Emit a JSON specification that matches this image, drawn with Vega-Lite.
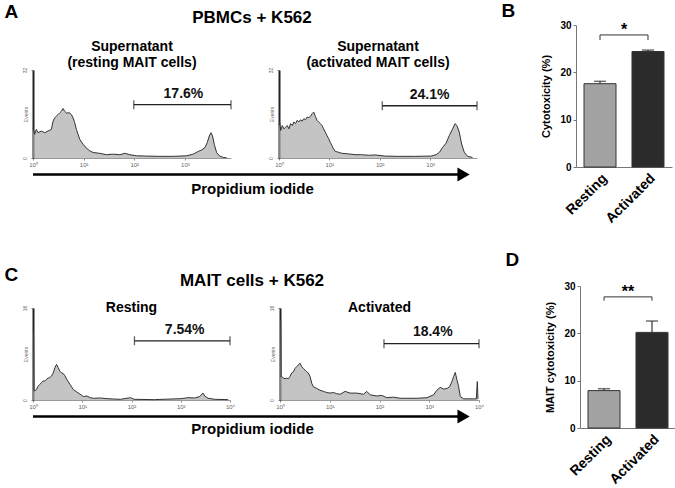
{
  "$schema": "https://vega.github.io/schema/vega-lite/v6.json",
  "background": "white",
  "padding": {"left": 4, "top": 2, "right": 0, "bottom": 0},
  "config": {
    "font": "Liberation Sans",
    "view": {"stroke": null},
    "title": {"color": "#000"},
    "axis": {"grid": false}
  },
  "datasets": {
    "h1": [
      {"lx":0,"count":11.0},{"lx":0.033,"count":8.6},{"lx":0.066,"count":10.4},{"lx":0.099,"count":9.2},{"lx":0.165,"count":9.8},{"lx":0.231,"count":9.2},{"lx":0.33,"count":10.1},{"lx":0.363,"count":10.4},{"lx":0.396,"count":13.4},{"lx":0.428,"count":14.6},{"lx":0.461,"count":15.2},{"lx":0.494,"count":15.8},{"lx":0.527,"count":16.4},{"lx":0.56,"count":17.0},{"lx":0.593,"count":18.0},{"lx":0.626,"count":17.0},{"lx":0.659,"count":16.4},{"lx":0.725,"count":16.4},{"lx":0.758,"count":15.8},{"lx":0.791,"count":14.6},{"lx":0.824,"count":12.8},{"lx":0.857,"count":10.4},{"lx":0.89,"count":8.6},{"lx":0.923,"count":6.8},{"lx":0.989,"count":5.0},{"lx":1.055,"count":3.6},{"lx":1.121,"count":2.6},{"lx":1.187,"count":2.0},{"lx":1.318,"count":1.7},{"lx":1.45,"count":1.2},{"lx":1.582,"count":1.4},{"lx":1.714,"count":1.2},{"lx":1.813,"count":1.7},{"lx":1.912,"count":1.2},{"lx":2.044,"count":0.8},{"lx":2.241,"count":0.7},{"lx":2.505,"count":0.6},{"lx":2.769,"count":0.6},{"lx":3.032,"count":0.8},{"lx":3.164,"count":1.4},{"lx":3.263,"count":2.4},{"lx":3.329,"count":2.9},{"lx":3.395,"count":3.8},{"lx":3.441,"count":5.6},{"lx":3.481,"count":8.0},{"lx":3.514,"count":9.2},{"lx":3.546,"count":8.0},{"lx":3.579,"count":5.0},{"lx":3.626,"count":2.0},{"lx":3.678,"count":0.8},{"lx":3.757,"count":0.2},{"lx":3.823,"count":0.1}
    ],
    "h2": [
      {"lx":0,"count":12.0},{"lx":0.013,"count":13.1},{"lx":0.033,"count":10.0},{"lx":0.066,"count":11.8},{"lx":0.098,"count":10.6},{"lx":0.131,"count":11.2},{"lx":0.164,"count":11.8},{"lx":0.197,"count":10.6},{"lx":0.23,"count":12.5},{"lx":0.263,"count":11.8},{"lx":0.295,"count":13.1},{"lx":0.328,"count":12.5},{"lx":0.361,"count":13.7},{"lx":0.394,"count":13.1},{"lx":0.427,"count":13.9},{"lx":0.46,"count":13.4},{"lx":0.492,"count":14.3},{"lx":0.525,"count":13.9},{"lx":0.558,"count":14.9},{"lx":0.591,"count":14.7},{"lx":0.624,"count":15.1},{"lx":0.657,"count":16.1},{"lx":0.689,"count":16.7},{"lx":0.722,"count":15.1},{"lx":0.755,"count":13.7},{"lx":0.788,"count":13.1},{"lx":0.821,"count":12.5},{"lx":0.854,"count":11.8},{"lx":0.886,"count":10.6},{"lx":0.919,"count":9.4},{"lx":0.952,"count":8.2},{"lx":0.985,"count":7.0},{"lx":1.018,"count":5.7},{"lx":1.051,"count":4.5},{"lx":1.083,"count":3.3},{"lx":1.116,"count":2.4},{"lx":1.182,"count":2.1},{"lx":1.248,"count":1.7},{"lx":1.379,"count":1.5},{"lx":1.51,"count":1.2},{"lx":1.641,"count":1.2},{"lx":1.773,"count":1.0},{"lx":1.904,"count":1.1},{"lx":2.101,"count":0.7},{"lx":2.364,"count":0.6},{"lx":2.692,"count":0.6},{"lx":3.02,"count":0.7},{"lx":3.119,"count":1.2},{"lx":3.185,"count":2.1},{"lx":3.25,"count":3.9},{"lx":3.316,"count":5.4},{"lx":3.381,"count":8.2},{"lx":3.447,"count":10.6},{"lx":3.493,"count":12.5},{"lx":3.532,"count":11.8},{"lx":3.578,"count":9.4},{"lx":3.624,"count":5.1},{"lx":3.677,"count":2.1},{"lx":3.743,"count":0.6},{"lx":3.841,"count":0.2}
    ],
    "h3": [
      {"lx":0,"count":12.0},{"lx":0.012,"count":12.0},{"lx":0.02,"count":1.6},{"lx":0.034,"count":1.6},{"lx":0.068,"count":1.8},{"lx":0.103,"count":2.4},{"lx":0.137,"count":2.7},{"lx":0.171,"count":3.0},{"lx":0.205,"count":3.3},{"lx":0.239,"count":3.3},{"lx":0.273,"count":3.6},{"lx":0.308,"count":3.8},{"lx":0.342,"count":3.9},{"lx":0.376,"count":4.2},{"lx":0.41,"count":4.7},{"lx":0.444,"count":5.6},{"lx":0.478,"count":6.2},{"lx":0.513,"count":5.6},{"lx":0.547,"count":5.0},{"lx":0.581,"count":4.7},{"lx":0.615,"count":4.6},{"lx":0.649,"count":4.2},{"lx":0.684,"count":3.6},{"lx":0.752,"count":2.7},{"lx":0.82,"count":1.8},{"lx":0.889,"count":1.4},{"lx":0.957,"count":1.0},{"lx":1.025,"count":0.6},{"lx":1.094,"count":0.7},{"lx":1.162,"count":0.4},{"lx":1.23,"count":0.3},{"lx":1.367,"count":0.35},{"lx":1.504,"count":0.23},{"lx":1.64,"count":0.17},{"lx":1.777,"count":0.12},{"lx":1.982,"count":0.4},{"lx":2.051,"count":0.12},{"lx":2.461,"count":0.06},{"lx":2.802,"count":0.17},{"lx":3.008,"count":0.23},{"lx":3.144,"count":0.4},{"lx":3.281,"count":0.35},{"lx":3.384,"count":0.6},{"lx":3.452,"count":1.2},{"lx":3.486,"count":0.7},{"lx":3.554,"count":0.3},{"lx":3.691,"count":0.12},{"lx":3.964,"count":0.06}
    ],
    "h4": [
      {"lx":0,"count":13.8},{"lx":0.015,"count":13.8},{"lx":0.022,"count":4.0},{"lx":0.034,"count":4.1},{"lx":0.067,"count":3.8},{"lx":0.101,"count":3.7},{"lx":0.134,"count":3.8},{"lx":0.168,"count":3.7},{"lx":0.201,"count":4.1},{"lx":0.235,"count":4.7},{"lx":0.268,"count":4.9},{"lx":0.302,"count":5.5},{"lx":0.336,"count":5.8},{"lx":0.369,"count":6.1},{"lx":0.403,"count":6.4},{"lx":0.436,"count":5.8},{"lx":0.47,"count":5.5},{"lx":0.503,"count":5.2},{"lx":0.537,"count":4.9},{"lx":0.57,"count":4.7},{"lx":0.604,"count":4.1},{"lx":0.638,"count":2.9},{"lx":0.671,"count":2.3},{"lx":0.738,"count":2.0},{"lx":0.805,"count":1.7},{"lx":0.872,"count":1.5},{"lx":0.94,"count":1.3},{"lx":1.007,"count":1.2},{"lx":1.074,"count":1.3},{"lx":1.141,"count":1.1},{"lx":1.208,"count":1.0},{"lx":1.309,"count":1.5},{"lx":1.409,"count":1.2},{"lx":1.544,"count":1.2},{"lx":1.678,"count":1.0},{"lx":1.745,"count":1.5},{"lx":1.812,"count":0.9},{"lx":1.946,"count":0.7},{"lx":2.047,"count":0.8},{"lx":2.148,"count":0.4},{"lx":2.282,"count":0.5},{"lx":2.416,"count":0.3},{"lx":2.752,"count":0.3},{"lx":2.953,"count":0.4},{"lx":3.087,"count":0.9},{"lx":3.154,"count":1.7},{"lx":3.221,"count":2.2},{"lx":3.289,"count":1.9},{"lx":3.356,"count":2.0},{"lx":3.409,"count":2.3},{"lx":3.456,"count":3.2},{"lx":3.49,"count":4.1},{"lx":3.523,"count":4.8},{"lx":3.557,"count":3.5},{"lx":3.591,"count":2.3},{"lx":3.624,"count":0.6},{"lx":3.691,"count":0.2},{"lx":3.893,"count":0.2},{"lx":3.946,"count":0.2},{"lx":3.966,"count":3.2},{"lx":3.98,"count":0.2}
    ]
  },
  "vconcat": [
    {
      "hconcat": [
        {
          "title": {"text": "A", "orient": "left", "anchor": "end", "angle": 0, "align": "right", "baseline": "top", "fontSize": 19, "fontWeight": "bold", "offset": -10, "dy": -6},
          "vconcat": [
            {
              "width": 438, "height": 15,
              "title": {"text": "PBMCs + K562", "fontSize": 17, "fontWeight": "bold", "offset": -2, "anchor": "middle"},
              "data": {"values": []},
              "mark": "text",
              "encoding": {}
            },
            {
              "hconcat": [
                {
                  "width": 198, "height": 88,
                  "title": {"text": ["Supernatant", "(resting MAIT cells)"], "fontSize": 14, "fontWeight": "bold", "lineHeight": 16, "offset": -3},
                  "layer": [
                    {"data": {"name": "h1"}, "mark": {"type": "area", "color": "#ababab", "line": {"color": "#333333", "strokeWidth": 1}},
                     "encoding": {
                       "x": {"field": "lx", "type": "quantitative", "scale": {"domain": [0, 3.91], "nice": false},
                             "axis": {"values": [0,1,2,3], "labelExpr": "'10' + ['⁰','¹','²','³','⁴'][datum.value]", "labelFontSize": 6, "labelColor": "#666", "tickSize": 2, "tickColor": "#888", "domainColor": "#999", "title": null, "labelPadding": 1, "labelFlush": false}},
                       "y": {"field": "count", "type": "quantitative", "scale": {"domain": [0, 32], "nice": false},
                             "axis": {"values": [0,32], "labelAngle": -90, "labelFontSize": 5, "labelColor": "#666", "tickSize": 2, "tickColor": "#888", "domainColor": "#222", "domainWidth": 2, "title": "Events", "titleFontSize": 5, "titleFontWeight": "normal", "titleColor": "#666", "titlePadding": -6, "labelPadding": 4}}
                     }},
                    {"data": {"values": [{"gx": 1.99, "gy": 19.4}, {"gx": 3.91, "gy": 19.4}]},
                     "mark": {"type": "line", "color": "#222", "strokeWidth": 1.3},
                     "encoding": {"x": {"field": "gx", "type": "quantitative"}, "y": {"field": "gy", "type": "quantitative"}}},
                    {"data": {"values": [{"gx": 1.99, "gy": 19.4}, {"gx": 3.91, "gy": 19.4}]},
                     "mark": {"type": "tick", "orient": "vertical", "size": 9, "thickness": 1.3, "color": "#222"},
                     "encoding": {"x": {"field": "gx", "type": "quantitative"}, "y": {"field": "gy", "type": "quantitative"}}},
                    {"data": {"values": [{"t": "17.6%", "tx": 2.97, "ty": 23.2}]},
                     "mark": {"type": "text", "fontSize": 14, "fontWeight": "bold", "color": "#111"},
                     "encoding": {"x": {"field": "tx", "type": "quantitative"}, "y": {"field": "ty", "type": "quantitative"}, "text": {"field": "t"}}}
                  ]
                },
                {
                  "width": 198, "height": 88,
                  "title": {"text": ["Supernatant", "(activated MAIT cells)"], "fontSize": 14, "fontWeight": "bold", "lineHeight": 16, "offset": -3},
                  "layer": [
                    {"data": {"name": "h2"}, "mark": {"type": "area", "color": "#ababab", "line": {"color": "#333333", "strokeWidth": 1}},
                     "encoding": {
                       "x": {"field": "lx", "type": "quantitative", "scale": {"domain": [0, 3.93], "nice": false},
                             "axis": {"values": [0,1,2,3], "labelExpr": "'10' + ['⁰','¹','²','³','⁴'][datum.value]", "labelFontSize": 6, "labelColor": "#666", "tickSize": 2, "tickColor": "#888", "domainColor": "#999", "title": null, "labelPadding": 1, "labelFlush": false}},
                       "y": {"field": "count", "type": "quantitative", "scale": {"domain": [0, 32], "nice": false},
                             "axis": {"values": [0,32], "labelAngle": -90, "labelFontSize": 5, "labelColor": "#666", "tickSize": 2, "tickColor": "#888", "domainColor": "#222", "domainWidth": 2, "title": "Events", "titleFontSize": 5, "titleFontWeight": "normal", "titleColor": "#666", "titlePadding": -6, "labelPadding": 4}}
                     }},
                    {"data": {"values": [{"gx": 2.05, "gy": 19.0}, {"gx": 3.93, "gy": 19.0}]},
                     "mark": {"type": "line", "color": "#222", "strokeWidth": 1.3},
                     "encoding": {"x": {"field": "gx", "type": "quantitative"}, "y": {"field": "gy", "type": "quantitative"}}},
                    {"data": {"values": [{"gx": 2.05, "gy": 19.0}, {"gx": 3.93, "gy": 19.0}]},
                     "mark": {"type": "tick", "orient": "vertical", "size": 9, "thickness": 1.3, "color": "#222"},
                     "encoding": {"x": {"field": "gx", "type": "quantitative"}, "y": {"field": "gy", "type": "quantitative"}}},
                    {"data": {"values": [{"t": "24.1%", "tx": 2.99, "ty": 22.8}]},
                     "mark": {"type": "text", "fontSize": 14, "fontWeight": "bold", "color": "#111"},
                     "encoding": {"x": {"field": "tx", "type": "quantitative"}, "y": {"field": "ty", "type": "quantitative"}, "text": {"field": "t"}}}
                  ]
                }
              ],
              "spacing": 34
            },
            {
              "width": 438, "height": 1,
              "data": {"values": [{"ax": 0, "ax2": 0.975, "hx": 0.983, "ay": 0.5}]},
              "layer": [
                {"mark": {"type": "rule", "color": "#000", "strokeWidth": 2.5},
                 "encoding": {
                   "x": {"field": "ax", "type": "quantitative", "scale": {"domain": [0, 1], "nice": false},
                         "axis": {"labels": false, "ticks": false, "domain": false, "title": "Propidium iodide", "titleFontSize": 15, "titleFontWeight": "bold", "titlePadding": 6}},
                   "x2": {"field": "ax2"},
                   "y": {"field": "ay", "type": "quantitative", "scale": {"domain": [0, 1]}, "axis": null}
                 }},
                {"mark": {"type": "point", "shape": "triangle-right", "size": 200, "filled": true, "color": "#000", "opacity": 1},
                 "encoding": {"x": {"field": "hx", "type": "quantitative"}, "y": {"field": "ay", "type": "quantitative"}}}
              ]
            }
          ],
          "spacing": 0
        },
        {
          "width": 96, "height": 142,
          "title": {"text": "B", "orient": "left", "anchor": "end", "angle": 0, "align": "right", "baseline": "top", "fontSize": 19, "fontWeight": "bold", "offset": 12, "dy": -18},
          "data": {"values": [{"group": "Resting", "value": 17.6, "err": 18.1}, {"group": "Activated", "value": 24.4, "err": 24.7}]},
          "layer": [
            {"mark": {"type": "bar", "stroke": "#333", "strokeWidth": 1},
             "encoding": {
               "x": {"field": "group", "type": "nominal", "scale": {"domain": ["Resting", "Activated"], "paddingInner": 0.333, "paddingOuter": 0.167},
                     "axis": {"labelAngle": -45, "labelFontSize": 14, "labelFontWeight": "bold", "labelColor": "#000", "ticks": false, "domainColor": "#777", "title": null, "labelPadding": 4}},
               "y": {"field": "value", "type": "quantitative", "scale": {"domain": [0, 30], "nice": false},
                     "axis": {"values": [0,10,20,30], "labelFontSize": 10, "labelFontWeight": "bold", "labelColor": "#000", "tickSize": 3, "tickColor": "#777", "domainColor": "#777", "title": "Cytotoxicity (%)", "titleFontSize": 11, "titleFontWeight": "bold", "titlePadding": 8}},
               "color": {"field": "group", "type": "nominal", "scale": {"domain": ["Resting", "Activated"], "range": ["#a3a3a3", "#2b2b2b"]}, "legend": null}
             }},
            {"mark": {"type": "rule", "color": "#333", "strokeWidth": 1.2},
             "encoding": {"x": {"field": "group", "type": "nominal"}, "y": {"field": "value", "type": "quantitative"}, "y2": {"field": "err"}}},
            {"mark": {"type": "tick", "orient": "horizontal", "size": 12, "thickness": 1.5, "color": "#333"},
             "encoding": {"x": {"field": "group", "type": "nominal"}, "y": {"field": "err", "type": "quantitative"}}},
            {"data": {"values": [{"group": "Resting", "top": 27.9, "bot": 26.8}, {"group": "Activated", "top": 27.9, "bot": 26.8}]},
             "mark": {"type": "rule", "color": "#333", "strokeWidth": 1},
             "encoding": {"x": {"field": "group", "type": "nominal"}, "y": {"field": "top", "type": "quantitative"}, "y2": {"field": "bot"}}},
            {"data": {"values": [{"group": "Resting", "top": 27.9}, {"group": "Activated", "top": 27.9}]},
             "mark": {"type": "line", "color": "#333", "strokeWidth": 1},
             "encoding": {"x": {"field": "group", "type": "nominal"}, "y": {"field": "top", "type": "quantitative"}}},
            {"data": {"values": [{"group": "Resting", "sy": 29.0, "s": "*"}]},
             "mark": {"type": "text", "fontSize": 16, "fontWeight": "bold", "color": "#000", "baseline": "middle"},
             "encoding": {"x": {"field": "group", "type": "nominal", "bandPosition": 1.25}, "y": {"field": "sy", "type": "quantitative"}, "text": {"field": "s"}}}
          ]
        }
      ],
      "spacing": 21
    },
    {
      "hconcat": [
        {
          "title": {"text": "C", "orient": "left", "anchor": "end", "angle": 0, "align": "right", "baseline": "top", "fontSize": 19, "fontWeight": "bold", "offset": -10, "dy": -6},
          "vconcat": [
            {
              "width": 438, "height": 15,
              "title": {"text": "MAIT cells + K562", "fontSize": 17, "fontWeight": "bold", "offset": -4, "anchor": "middle"},
              "data": {"values": []},
              "mark": "text",
              "encoding": {}
            },
            {
              "hconcat": [
                {
                  "width": 197, "height": 92,
                  "title": {"text": "Resting", "fontSize": 14, "fontWeight": "bold", "offset": -10},
                  "layer": [
                    {"data": {"name": "h3"}, "mark": {"type": "area", "color": "#ababab", "line": {"color": "#333333", "strokeWidth": 1}},
                     "encoding": {
                       "x": {"field": "lx", "type": "quantitative", "scale": {"domain": [0, 4], "nice": false},
                             "axis": {"values": [0,1,2,3,4], "labelExpr": "'10' + ['⁰','¹','²','³','⁴'][datum.value]", "labelFontSize": 6, "labelColor": "#666", "tickSize": 2, "tickColor": "#888", "domainColor": "#999", "title": null, "labelPadding": 1, "labelFlush": false}},
                       "y": {"field": "count", "type": "quantitative", "scale": {"domain": [0, 16], "nice": false},
                             "axis": {"values": [0,16], "labelAngle": -90, "labelFontSize": 5, "labelColor": "#666", "tickSize": 2, "tickColor": "#888", "domainColor": "#222", "domainWidth": 2, "title": "Events", "titleFontSize": 5, "titleFontWeight": "normal", "titleColor": "#666", "titlePadding": -6, "labelPadding": 4}}
                     }},
                    {"data": {"values": [{"gx": 2.06, "gy": 10.3}, {"gx": 4.0, "gy": 10.3}]},
                     "mark": {"type": "line", "color": "#222", "strokeWidth": 1.3},
                     "encoding": {"x": {"field": "gx", "type": "quantitative"}, "y": {"field": "gy", "type": "quantitative"}}},
                    {"data": {"values": [{"gx": 2.06, "gy": 10.3}, {"gx": 4.0, "gy": 10.3}]},
                     "mark": {"type": "tick", "orient": "vertical", "size": 9, "thickness": 1.3, "color": "#222"},
                     "encoding": {"x": {"field": "gx", "type": "quantitative"}, "y": {"field": "gy", "type": "quantitative"}}},
                    {"data": {"values": [{"t": "7.54%", "tx": 3.08, "ty": 12.1}]},
                     "mark": {"type": "text", "fontSize": 14, "fontWeight": "bold", "color": "#111"},
                     "encoding": {"x": {"field": "tx", "type": "quantitative"}, "y": {"field": "ty", "type": "quantitative"}, "text": {"field": "t"}}}
                  ]
                },
                {
                  "width": 199, "height": 92,
                  "title": {"text": "Activated", "fontSize": 14, "fontWeight": "bold", "offset": -10},
                  "layer": [
                    {"data": {"name": "h4"}, "mark": {"type": "area", "color": "#ababab", "line": {"color": "#333333", "strokeWidth": 1}},
                     "encoding": {
                       "x": {"field": "lx", "type": "quantitative", "scale": {"domain": [0, 4], "nice": false},
                             "axis": {"values": [0,1,2,3,4], "labelExpr": "'10' + ['⁰','¹','²','³','⁴'][datum.value]", "labelFontSize": 6, "labelColor": "#666", "tickSize": 2, "tickColor": "#888", "domainColor": "#999", "title": null, "labelPadding": 1, "labelFlush": false}},
                       "y": {"field": "count", "type": "quantitative", "scale": {"domain": [0, 16], "nice": false},
                             "axis": {"values": [0,16], "labelAngle": -90, "labelFontSize": 5, "labelColor": "#666", "tickSize": 2, "tickColor": "#888", "domainColor": "#222", "domainWidth": 2, "title": "Events", "titleFontSize": 5, "titleFontWeight": "normal", "titleColor": "#666", "titlePadding": -6, "labelPadding": 4}}
                     }},
                    {"data": {"values": [{"gx": 2.09, "gy": 9.8}, {"gx": 4.0, "gy": 9.8}]},
                     "mark": {"type": "line", "color": "#222", "strokeWidth": 1.3},
                     "encoding": {"x": {"field": "gx", "type": "quantitative"}, "y": {"field": "gy", "type": "quantitative"}}},
                    {"data": {"values": [{"gx": 2.09, "gy": 9.8}, {"gx": 4.0, "gy": 9.8}]},
                     "mark": {"type": "tick", "orient": "vertical", "size": 9, "thickness": 1.3, "color": "#222"},
                     "encoding": {"x": {"field": "gx", "type": "quantitative"}, "y": {"field": "gy", "type": "quantitative"}}},
                    {"data": {"values": [{"t": "18.4%", "tx": 3.07, "ty": 11.9}]},
                     "mark": {"type": "text", "fontSize": 14, "fontWeight": "bold", "color": "#111"},
                     "encoding": {"x": {"field": "tx", "type": "quantitative"}, "y": {"field": "ty", "type": "quantitative"}, "text": {"field": "t"}}}
                  ]
                }
              ],
              "spacing": 34
            },
            {
              "width": 438, "height": 1,
              "data": {"values": [{"ax": 0, "ax2": 0.975, "hx": 0.983, "ay": 0.5}]},
              "layer": [
                {"mark": {"type": "rule", "color": "#000", "strokeWidth": 2.5},
                 "encoding": {
                   "x": {"field": "ax", "type": "quantitative", "scale": {"domain": [0, 1], "nice": false},
                         "axis": {"labels": false, "ticks": false, "domain": false, "title": "Propidium iodide", "titleFontSize": 15, "titleFontWeight": "bold", "titlePadding": 4}},
                   "x2": {"field": "ax2"},
                   "y": {"field": "ay", "type": "quantitative", "scale": {"domain": [0, 1]}, "axis": null}
                 }},
                {"mark": {"type": "point", "shape": "triangle-right", "size": 200, "filled": true, "color": "#000", "opacity": 1},
                 "encoding": {"x": {"field": "hx", "type": "quantitative"}, "y": {"field": "ay", "type": "quantitative"}}}
              ]
            }
          ],
          "spacing": 0
        },
        {
          "width": 96, "height": 142,
          "title": {"text": "D", "orient": "left", "anchor": "end", "angle": 0, "align": "right", "baseline": "top", "fontSize": 19, "fontWeight": "bold", "offset": 12, "dy": -30},
          "data": {"values": [{"group": "Resting", "value": 7.9, "err": 8.3}, {"group": "Activated", "value": 20.2, "err": 22.6}]},
          "layer": [
            {"mark": {"type": "bar", "stroke": "#333", "strokeWidth": 1},
             "encoding": {
               "x": {"field": "group", "type": "nominal", "scale": {"domain": ["Resting", "Activated"], "paddingInner": 0.333, "paddingOuter": 0.167},
                     "axis": {"labelAngle": -45, "labelFontSize": 14, "labelFontWeight": "bold", "labelColor": "#000", "ticks": false, "domainColor": "#777", "title": null, "labelPadding": 4}},
               "y": {"field": "value", "type": "quantitative", "scale": {"domain": [0, 30], "nice": false},
                     "axis": {"values": [0,10,20,30], "labelFontSize": 10, "labelFontWeight": "bold", "labelColor": "#000", "tickSize": 3, "tickColor": "#777", "domainColor": "#777", "title": "MAIT cytotoxicity (%)", "titleFontSize": 11, "titleFontWeight": "bold", "titlePadding": 8}},
               "color": {"field": "group", "type": "nominal", "scale": {"domain": ["Resting", "Activated"], "range": ["#a3a3a3", "#2b2b2b"]}, "legend": null}
             }},
            {"mark": {"type": "rule", "color": "#333", "strokeWidth": 1.2},
             "encoding": {"x": {"field": "group", "type": "nominal"}, "y": {"field": "value", "type": "quantitative"}, "y2": {"field": "err"}}},
            {"mark": {"type": "tick", "orient": "horizontal", "size": 12, "thickness": 1.5, "color": "#333"},
             "encoding": {"x": {"field": "group", "type": "nominal"}, "y": {"field": "err", "type": "quantitative"}}},
            {"data": {"values": [{"group": "Resting", "top": 27.7, "bot": 26.9}, {"group": "Activated", "top": 27.7, "bot": 26.9}]},
             "mark": {"type": "rule", "color": "#333", "strokeWidth": 1},
             "encoding": {"x": {"field": "group", "type": "nominal"}, "y": {"field": "top", "type": "quantitative"}, "y2": {"field": "bot"}}},
            {"data": {"values": [{"group": "Resting", "top": 27.7}, {"group": "Activated", "top": 27.7}]},
             "mark": {"type": "line", "color": "#333", "strokeWidth": 1},
             "encoding": {"x": {"field": "group", "type": "nominal"}, "y": {"field": "top", "type": "quantitative"}}},
            {"data": {"values": [{"group": "Resting", "sy": 28.7, "s": "**"}]},
             "mark": {"type": "text", "fontSize": 16, "fontWeight": "bold", "color": "#000", "baseline": "middle"},
             "encoding": {"x": {"field": "group", "type": "nominal", "bandPosition": 1.25}, "y": {"field": "sy", "type": "quantitative"}, "text": {"field": "s"}}}
          ]
        }
      ],
      "spacing": 21
    }
  ],
  "spacing": 25
}
